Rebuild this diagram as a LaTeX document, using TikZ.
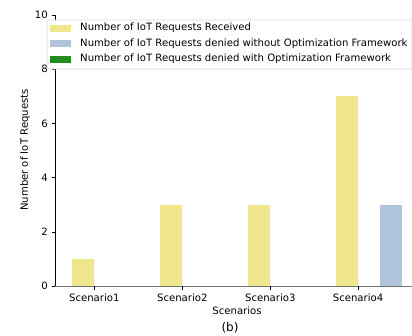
\documentclass[tikz,border=0pt]{standalone}
\usepackage{fontspec}
\setmainfont{DejaVu Sans}
\definecolor{khaki}{HTML}{F0E68C}
\definecolor{lsb}{HTML}{B0C4DE}
\definecolor{fgreen}{HTML}{228B22}
\begin{document}
\begin{tikzpicture}[x=1pt,y=-1pt,
  lbl/.style={font=\fontsize{10.1}{11}\selectfont, inner sep=0pt},
  bar/.style={draw=none},
  ytick/.style={lbl, anchor=east}]
\useasboundingbox (0,0) rectangle (412,335);
% bars
\fill[khaki] (72,286) rectangle (94.3,258.9);
\fill[khaki] (160,286) rectangle (182.3,204.7);
\fill[khaki] (248,286) rectangle (270.3,204.7);
\fill[khaki] (335.7,286) rectangle (358,96.3);
\fill[lsb] (380,286) rectangle (402,204.7);
% axes
\draw[black, line width=0.8pt] (55,15) -- (55,286);
\draw[gray!90!black, line width=0.8pt] (55,286) -- (412,286);
% y ticks
\foreach \v/\yy in {0/286,2/231.8,4/177.6,6/123.4,8/69.2,10/15} {
  \draw[line width=0.6pt] (51.5,\yy) -- (55,\yy);
  \node[ytick] (yt\v) at (48,\yy) {\v};
}
% x ticks
\foreach \n/\xx in {1/94.3,2/182.3,3/270.3,4/358} {
  \draw[line width=0.6pt] (\xx,286) -- (\xx,289.5);
  \node[lbl] (xt\n) at (\xx,298) {Scenario\n};
}
\node[lbl] (xlab) at (237,311) {Scenarios};
\node[lbl, rotate=90] (ylab) at (25,150) {Number of IoT Requests};
% legend
\draw[gray!30, fill=white, line width=0.6pt, rounded corners=2pt] (47,20) rectangle (412,69);
\fill[khaki] (50,24.5) rectangle (71,31.5);
\fill[lsb] (50,40) rectangle (71,47);
\fill[fgreen] (50,55.5) rectangle (71,62.5);
\node[lbl, anchor=west] (l1) at (80,28) {Number of IoT Requests Received};
\node[lbl, anchor=west] (l2) at (80,43.5) {Number of IoT Requests denied without Optimization Framework};
\node[lbl, anchor=west] (l3) at (80,59) {Number of IoT Requests denied with Optimization Framework};
\node[font=\fontsize{12}{14}\selectfont, inner sep=0pt] (cap) at (230,328) {(b)};
\end{tikzpicture}
\end{document}
